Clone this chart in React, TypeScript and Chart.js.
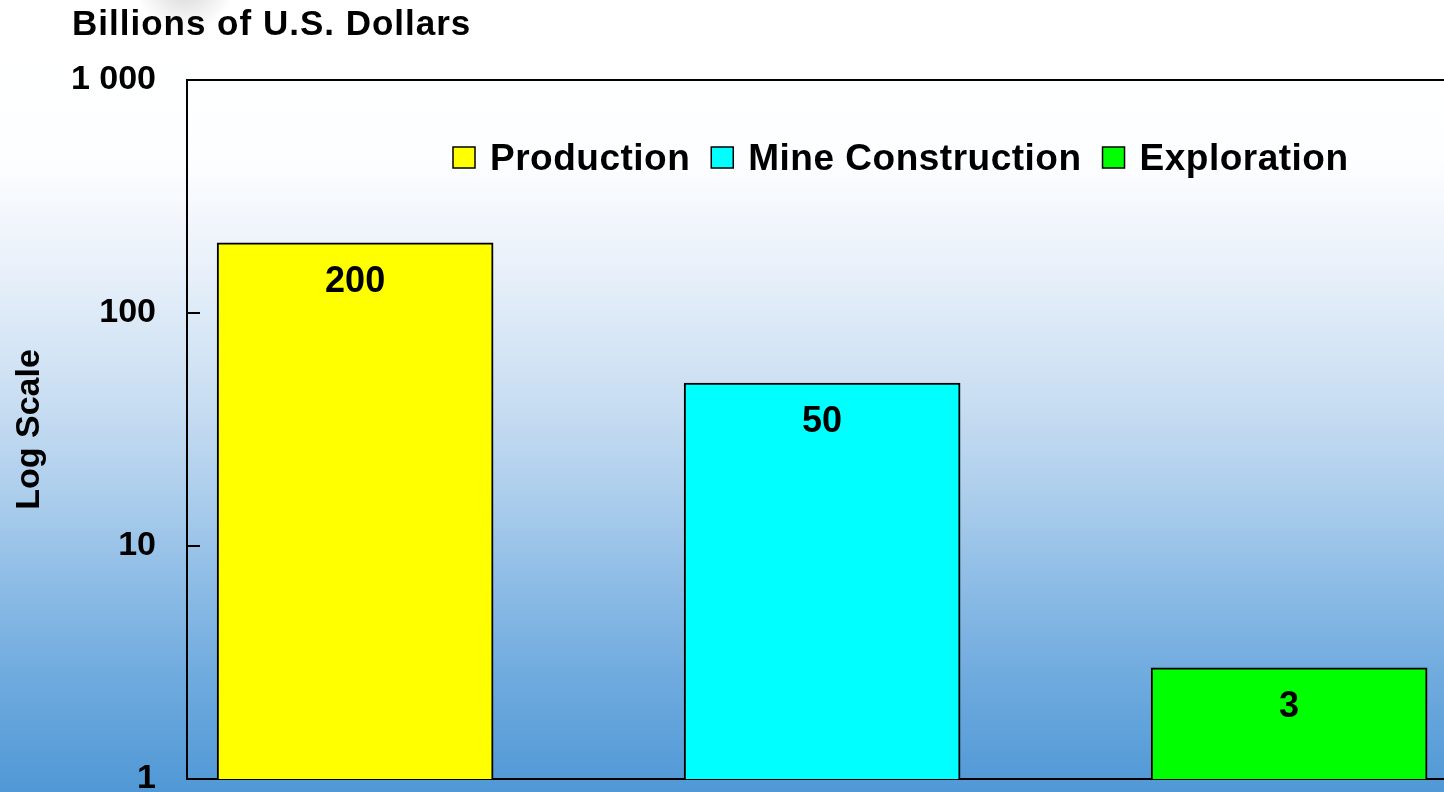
import React, { useEffect, useRef } from 'react';
import { Chart, registerables } from 'chart.js';

Chart.register(...registerables);

// ---- data ----
const categories = ['Production', 'Mine Construction', 'Exploration'];
const values = [200, 50, 3];
const valueLabels = ['200', '50', '3'];
const barColors = ['#ffff00', '#00ffff', '#00ff00'];
const yTickValues = [1, 10, 100, 1000];
const yTickLabels = ['1', '10', '100', '1 000'];
const yTitle = 'Log Scale';
const chartTitle = 'Billions of U.S. Dollars';

const FONT = '"Liberation Sans", Arial, Helvetica, sans-serif';
const CW = 1444;
const CH = 850;

export default function App() {
  const ref = useRef<HTMLCanvasElement>(null);

  useEffect(() => {
    const canvas = ref.current;
    if (!canvas) return;

    const bgPlugin = {
      id: 'bgPlugin',
      beforeDraw(chart: any) {
        const ctx = chart.ctx;
        ctx.save();
        const g = ctx.createLinearGradient(0, 0, 0, 792);
        g.addColorStop(0, '#ffffff');
        g.addColorStop(0.2, '#fdfeff');
        g.addColorStop(0.3, '#eff4fb');
        g.addColorStop(0.38, '#e0ecf8');
        g.addColorStop(0.505, '#c9def2');
        g.addColorStop(0.63, '#abcdec');
        g.addColorStop(0.73, '#8fbde6');
        g.addColorStop(0.86, '#6eaade');
        g.addColorStop(1, '#5098d6');
        ctx.fillStyle = g;
        ctx.fillRect(0, 0, chart.width, chart.height);
        const r = ctx.createRadialGradient(185, -18, 0, 185, -18, 50);
        r.addColorStop(0, 'rgba(110,110,110,0.3)');
        r.addColorStop(1, 'rgba(110,110,110,0)');
        ctx.fillStyle = r;
        ctx.fillRect(120, 0, 130, 40);
        ctx.restore();
      },
    };

    const framePlugin = {
      id: 'framePlugin',
      afterDatasetsDraw(chart: any) {
        const ctx = chart.ctx;
        const { left, right, top } = chart.chartArea;
        const yScale = chart.scales.y;
        ctx.save();
        ctx.strokeStyle = '#000';
        ctx.lineWidth = 2;
        ctx.beginPath();
        ctx.moveTo(left - 1, top);
        ctx.lineTo(right, top);
        ctx.stroke();
        yTickValues.forEach((v) => {
          const y = Math.round(yScale.getPixelForValue(v));
          ctx.beginPath();
          ctx.moveTo(left, y);
          ctx.lineTo(left + 13, y);
          ctx.stroke();
        });
        ctx.restore();
      },
    };

    const labelPlugin = {
      id: 'labelPlugin',
      afterDatasetsDraw(chart: any) {
        const ctx = chart.ctx;
        ctx.save();
        ctx.font = `bold 36px ${FONT}`;
        ctx.fillStyle = '#000';
        ctx.textAlign = 'center';
        ctx.textBaseline = 'alphabetic';
        chart.data.datasets.forEach((_ds: any, i: number) => {
          const el = chart.getDatasetMeta(i).data[0];
          if (!el) return;
          ctx.fillText(valueLabels[i], el.x, el.y + 49);
        });
        ctx.restore();
      },
    };

    const textPlugin = {
      id: 'textPlugin',
      afterDraw(chart: any) {
        const ctx = chart.ctx;
        ctx.save();
        ctx.fillStyle = '#000';
        ctx.textBaseline = 'alphabetic';
        ctx.textAlign = 'left';
        // title
        ctx.font = `bold 35px ${FONT}`;
        (ctx as any).letterSpacing = '1px';
        ctx.fillText(chartTitle, 72, 35);
        // legend
        ctx.font = `bold 37px ${FONT}`;
        (ctx as any).letterSpacing = '0.5px';
        let x = 453;
        categories.forEach((c, i) => {
          ctx.fillStyle = barColors[i];
          ctx.fillRect(x, 147, 22, 21);
          ctx.strokeStyle = '#000';
          ctx.lineWidth = 1.5;
          ctx.strokeRect(x, 147, 22, 21);
          ctx.fillStyle = '#000';
          ctx.fillText(c, x + 37, 170);
          x += 37 + ctx.measureText(c).width + 21;
        });
        ctx.restore();
      },
    };

    const chart = new Chart(canvas, {
      type: 'bar',
      data: {
        datasets: categories.map((c, i) => ({
          label: c,
          data: [{ x: i, y: values[i] }],
          backgroundColor: barColors[i],
          borderColor: '#000000',
          borderWidth: 2,
          borderSkipped: 'start',
          barThickness: 276,
          grouped: false,
        })),
      },
      options: {
        responsive: false,
        animation: false,
        devicePixelRatio: 1,
        layout: { padding: { top: 80, left: 0, right: 0, bottom: CH - 779 } },
        plugins: {
          legend: { display: false },
          tooltip: { enabled: false },
          title: { display: false },
        },
        scales: {
          x: {
            type: 'linear',
            offset: false,
            bounds: 'data',
            min: -0.36,
            max: -0.36 + (CW - 187) / 467,
            ticks: { display: false },
            grid: { display: false, drawTicks: false },
            border: { display: true, color: '#000000', width: 2 },
            afterFit(s: any) {
              s.height = 0;
            },
          },
          y: {
            type: 'logarithmic',
            min: 1,
            max: 1000,
            afterFit(s: any) {
              s.width = 187;
            },
            afterBuildTicks(s: any) {
              s.ticks = yTickValues.map((v) => ({ value: v }));
            },
            ticks: {
              autoSkip: false,
              padding: 31,
              color: '#000000',
              font: { family: FONT, size: 34, weight: 'bold' },
              callback: (v: any) => {
                const idx = yTickValues.indexOf(Number(v));
                return idx >= 0 ? yTickLabels[idx] : '';
              },
            },
            grid: { display: false, drawTicks: false },
            border: { display: true, color: '#000000', width: 2 },
            title: {
              display: true,
              text: yTitle,
              color: '#000000',
              font: { family: FONT, size: 34, weight: 'bold' },
              padding: { top: 9, bottom: 0 },
            },
          },
        },
      } as any,
      plugins: [bgPlugin, framePlugin, labelPlugin, textPlugin],
    });

    return () => chart.destroy();
  }, []);

  return (
    <div
      style={{
        position: 'fixed',
        left: 0,
        top: 0,
        width: CW,
        height: 792,
        overflow: 'hidden',
      }}
    >
      <canvas ref={ref} width={CW} height={CH} style={{ display: 'block' }} />
    </div>
  );
}
